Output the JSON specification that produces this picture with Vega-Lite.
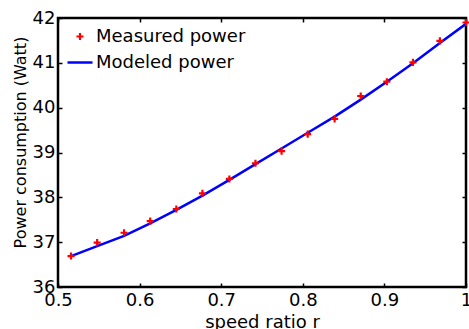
{
  "$schema": "https://vega.github.io/schema/vega-lite/v6.json",
  "width": 408,
  "height": 269,
  "autosize": {"type": "none"},
  "padding": {"left": 58, "top": 18, "right": 3, "bottom": 42},
  "background": "white",
  "config": {
    "view": {"stroke": "black", "strokeWidth": 2.5},
    "font": "DejaVu Sans",
    "axis": {"grid": false, "domain": false, "labelColor": "black", "titleColor": "black", "tickColor": "black", "labelFont": "DejaVu Sans", "titleFont": "DejaVu Sans", "titleFontWeight": "normal", "labelFlush": false, "labelOverlap": false}
  },
  "datasets": {
    "measured": [
      {"r": 0.516, "power": 36.69, "series": "Measured power"},
      {"r": 0.548, "power": 36.99, "series": "Measured power"},
      {"r": 0.581, "power": 37.21, "series": "Measured power"},
      {"r": 0.613, "power": 37.47, "series": "Measured power"},
      {"r": 0.645, "power": 37.74, "series": "Measured power"},
      {"r": 0.677, "power": 38.09, "series": "Measured power"},
      {"r": 0.710, "power": 38.41, "series": "Measured power"},
      {"r": 0.742, "power": 38.76, "series": "Measured power"},
      {"r": 0.774, "power": 39.03, "series": "Measured power"},
      {"r": 0.806, "power": 39.41, "series": "Measured power"},
      {"r": 0.839, "power": 39.75, "series": "Measured power"},
      {"r": 0.871, "power": 40.26, "series": "Measured power"},
      {"r": 0.903, "power": 40.58, "series": "Measured power"},
      {"r": 0.935, "power": 41.01, "series": "Measured power"},
      {"r": 0.968, "power": 41.49, "series": "Measured power"},
      {"r": 1.0, "power": 41.9, "series": "Measured power"}
    ],
    "modeled": [
      {"r": 0.516, "power": 36.69, "series": "Modeled power"},
      {"r": 0.548, "power": 36.91, "series": "Modeled power"},
      {"r": 0.581, "power": 37.14, "series": "Modeled power"},
      {"r": 0.613, "power": 37.42, "series": "Modeled power"},
      {"r": 0.645, "power": 37.72, "series": "Modeled power"},
      {"r": 0.677, "power": 38.04, "series": "Modeled power"},
      {"r": 0.710, "power": 38.39, "series": "Modeled power"},
      {"r": 0.742, "power": 38.74, "series": "Modeled power"},
      {"r": 0.774, "power": 39.09, "series": "Modeled power"},
      {"r": 0.806, "power": 39.44, "series": "Modeled power"},
      {"r": 0.839, "power": 39.80, "series": "Modeled power"},
      {"r": 0.871, "power": 40.18, "series": "Modeled power"},
      {"r": 0.903, "power": 40.58, "series": "Modeled power"},
      {"r": 0.935, "power": 40.99, "series": "Modeled power"},
      {"r": 0.968, "power": 41.44, "series": "Modeled power"},
      {"r": 1.0, "power": 41.87, "series": "Modeled power"}
    ]
  },
  "layer": [
    {
      "data": {"name": "modeled"},
      "mark": {"type": "line", "strokeWidth": 2.5, "clip": true},
      "encoding": {
        "x": {"field": "r", "type": "quantitative",
          "scale": {"domain": [0.5, 1], "nice": false, "zero": false},
          "axis": {"orient": "bottom", "values": [0.5, 0.6, 0.7, 0.8, 0.9, 1], "format": ".1~f", "title": "speed ratio r", "labelFontSize": 18, "titleFontSize": 18, "tickSize": -4, "tickWidth": 1.5, "labelPadding": 22, "labelBaseline": "alphabetic", "titleBaseline": "alphabetic", "titleY": 40, "titleX": 204}},
        "y": {"field": "power", "type": "quantitative",
          "scale": {"domain": [36, 42], "nice": false, "zero": false},
          "axis": {"orient": "left", "values": [36, 37, 38, 39, 40, 41, 42], "format": "d", "title": "Power consumption (Watt)", "labelFontSize": 18, "titleFontSize": 16, "tickSize": -4, "tickWidth": 1.5, "labelPadding": 7, "titleX": -30, "titleY": 124}},
        "color": {"field": "series", "type": "nominal",
          "scale": {"domain": ["Measured power", "Modeled power"], "range": ["#ff0000", "#0000ff"]},
          "legend": {"title": null, "orient": "none", "legendX": 13, "legendY": 9.5, "padding": 0, "rowPadding": 8, "labelFontSize": 18, "labelFont": "DejaVu Sans", "labelColor": "black", "labelOffset": 7, "symbolType": "stroke", "symbolSize": 625, "symbolStrokeWidth": 2.5,
            "encode": {"symbols": {"update": {
              "shape": {"signal": "datum.value === 'Measured power' ? 'M-1,0H1M0,-1V1' : 'stroke'"},
              "size": {"signal": "datum.value === 'Measured power' ? 50 : 625"},
              "stroke": {"signal": "datum.value === 'Measured power' ? '#ff0000' : '#0000ff'"},
              "strokeWidth": {"signal": "datum.value === 'Measured power' ? 2.2 : 2.5"},
              "fill": {"value": "transparent"}
            }}}}
        }
      }
    },
    {
      "data": {"name": "measured"},
      "mark": {"type": "point", "shape": "M-1,0H1M0,-1V1", "size": 50, "strokeWidth": 2.2, "filled": false, "opacity": 1, "clip": false},
      "encoding": {
        "x": {"field": "r", "type": "quantitative",
          "axis": {"orient": "top", "values": [0.5, 0.6, 0.7, 0.8, 0.9, 1], "labels": false, "title": null, "tickSize": -4, "tickWidth": 1.5}},
        "y": {"field": "power", "type": "quantitative",
          "axis": {"orient": "right", "values": [36, 37, 38, 39, 40, 41, 42], "labels": false, "title": null, "tickSize": -4, "tickWidth": 1.5}},
        "color": {"field": "series", "type": "nominal"}
      }
    }
  ],
  "resolve": {"axis": {"x": "independent", "y": "independent"}}
}
